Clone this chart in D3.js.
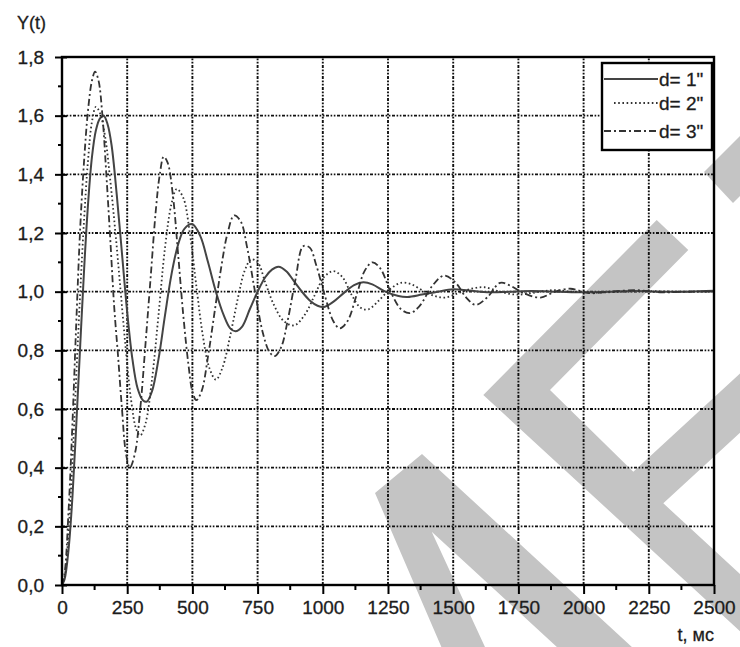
<!DOCTYPE html>
<html>
<head>
<meta charset="utf-8">
<script src="https://cdn.jsdelivr.net/npm/d3@7/dist/d3.min.js"></script>
<style>
  body { margin: 0; background: #fff; }
  svg { display: block; }
  text { font-family: "Liberation Sans", Arial, sans-serif; fill: #1c1c1c; }
</style>
</head>
<body>
<svg id="chart" width="740" height="647"></svg>
<script>
// Step response Y(t) for three diameters, t in ms
const seriesNames = ['d= 1"', 'd= 2"', 'd= 3"'];

const responseD1 = [
  [0,0],[10,0.02],[25,0.12],[40,0.3],[55,0.55],[70,0.82],[85,1.08],[100,1.3],[115,1.46],
  [130,1.55],[145,1.59],[160,1.6],[175,1.57],[190,1.5],[210,1.33],[230,1.13],[250,0.93],
  [270,0.77],[290,0.67],[310,0.63],[325,0.625],[345,0.66],[370,0.77],[395,0.92],[420,1.06],
  [445,1.16],[470,1.215],[500,1.23],[530,1.19],[560,1.1],[590,1.0],[620,0.92],[645,0.875],
  [665,0.865],[690,0.88],[720,0.94],[750,1.0],[780,1.05],[805,1.075],[830,1.085],[860,1.07],
  [890,1.035],[920,1.0],[950,0.97],[980,0.952],[1005,0.948],[1040,0.965],[1080,0.995],
  [1120,1.022],[1155,1.032],[1190,1.025],[1240,1.0],[1290,0.985],[1325,0.982],[1380,0.99],
  [1440,1.0],[1500,1.008],[1560,1.004],[1640,0.998],[1720,1.0],[1800,1.002],[1900,1.0],
  [2000,0.998],[2100,1.0],[2200,1.002],[2300,1.0],[2400,1.0],[2500,1.003]
];

const responseD2 = [
  [0,0],[10,0.03],[25,0.18],[40,0.42],[55,0.72],[70,1.0],[85,1.25],[100,1.45],[115,1.58],
  [130,1.63],[145,1.61],[165,1.53],[185,1.38],[205,1.2],[225,1.0],[245,0.8],[265,0.63],
  [285,0.53],[300,0.51],[320,0.55],[345,0.7],[370,0.92],[395,1.15],[420,1.3],[440,1.35],
  [465,1.32],[490,1.2],[515,1.02],[540,0.85],[565,0.74],[590,0.7],[615,0.74],[645,0.85],
  [675,0.98],[700,1.07],[725,1.11],[750,1.1],[780,1.03],[810,0.96],[850,0.9],[890,0.885],
  [930,0.92],[970,0.99],[1005,1.05],[1040,1.07],[1075,1.05],[1110,0.99],[1145,0.945],
  [1175,0.94],[1215,0.97],[1260,1.01],[1300,1.03],[1340,1.025],[1390,1.0],[1430,0.985],
  [1470,0.98],[1520,0.995],[1570,1.01],[1620,1.015],[1680,1.0],[1740,0.99],[1800,0.995],
  [1880,1.005],[1960,1.0],[2050,0.997],[2150,1.0],[2250,1.002],[2350,1.0],[2500,1.0]
];

const responseD3 = [
  [0,0],[10,0.04],[25,0.25],[40,0.55],[55,0.9],[70,1.22],[85,1.45],[100,1.62],[115,1.72],
  [127,1.75],[140,1.72],[155,1.6],[170,1.4],[185,1.18],[200,0.95],[215,0.78],[230,0.6],
  [245,0.45],[260,0.4],[280,0.45],[300,0.6],[320,0.82],[340,1.05],[360,1.28],[375,1.4],
  [390,1.46],[405,1.44],[425,1.33],[445,1.13],[465,0.92],[485,0.75],[500,0.66],[515,0.63],
  [535,0.66],[560,0.78],[585,0.93],[610,1.08],[635,1.2],[660,1.26],[685,1.24],[710,1.15],
  [740,1.0],[770,0.86],[795,0.795],[815,0.78],[840,0.81],[865,0.9],[895,1.04],[925,1.155],
  [950,1.15],[975,1.09],[1010,0.98],[1040,0.9],[1065,0.875],[1095,0.9],[1130,0.99],
  [1160,1.07],[1190,1.1],[1220,1.08],[1260,1.0],[1300,0.94],[1335,0.927],[1370,0.95],
  [1420,1.02],[1465,1.055],[1510,1.03],[1550,0.98],[1585,0.955],[1630,0.98],[1680,1.03],
  [1720,1.02],[1770,0.995],[1835,0.98],[1890,1.0],[1950,1.01],[2020,0.995],[2100,1.0],
  [2200,1.005],[2300,0.998],[2400,1.0],[2500,1.0]
];

const xTickValues = [0, 250, 500, 750, 1000, 1250, 1500, 1750, 2000, 2250, 2500];
const yTickValues = [0, 0.2, 0.4, 0.6, 0.8, 1.0, 1.2, 1.4, 1.6, 1.8];
const xAxisTitle = "t, мс";
const yAxisTitle = "Y(t)";

const svg = d3.select("#chart");
const W = 740, H = 647;
svg.append("rect").attr("width", W).attr("height", H).attr("fill", "#fff");

// Background stamp: large grey diagonal strokes
const stamp = [
  [[375,493],[422,454],[646,660],[571,660],[431.7,531.7],[491,660],[447,660]],
  [[656.7,220],[688.3,250],[550,390],[633.3,471.7],[760,355.1],[760,414.3],[663.3,503.3],
   [760,592.3],[760,649.6],[483.3,395]],
  [[704,172],[750,126],[750,186],[733,203]]
];
svg.append("g").selectAll("polygon").data(stamp).join("polygon")
  .attr("points", d => d.map(p => p.join(",")).join(" "))
  .attr("fill", "#c4c4c4");

const x = d3.scaleLinear().domain([0, 2500]).range([62, 714]);
const y = d3.scaleLinear().domain([0, 1.8]).range([585, 57]);

const commaFmt = d3.formatLocale({decimal: ",", thousands: "", grouping: [3], currency: ["", ""]}).format(".1f");

// grid: dash-dot-dot lines at every major tick
const gridDash = "3,1.6,1.6,1.6,1.6,1.6";
const grid = svg.append("g").attr("stroke", "#111").attr("stroke-width", 1.9).attr("stroke-dasharray", gridDash);
grid.selectAll("line.v").data(xTickValues.slice(1, -1)).join("line")
  .attr("x1", d => x(d)).attr("x2", d => x(d)).attr("y1", y(0)).attr("y2", y(1.8));
grid.selectAll("line.h").data(yTickValues.slice(1, -1)).join("line")
  .attr("x1", x(0)).attr("x2", x(2500)).attr("y1", d => y(d)).attr("y2", d => y(d));

// curves
const line = d3.line().x(d => x(d[0])).y(d => y(d[1])).curve(d3.curveCatmullRom.alpha(0.5));
const styles = [
  {data: responseD1, dash: null, width: 2, color: "#444"},
  {data: responseD2, dash: "1.6,2.6", width: 1.8, color: "#333"},
  {data: responseD3, dash: "7,3,2,3", width: 1.8, color: "#333"}
];
svg.append("g").attr("fill", "none").selectAll("path").data(styles).join("path")
  .attr("d", d => line(d.data))
  .attr("stroke", d => d.color)
  .attr("stroke-width", d => d.width)
  .attr("stroke-dasharray", d => d.dash);

// axes
const fontSize = 19;
const xAxis = svg.append("g").attr("transform", `translate(0,${y(0)})`)
  .call(d3.axisBottom(x).tickValues(xTickValues).tickSize(9).tickPadding(7).tickFormat(d3.format("d")));
const yAxis = svg.append("g").attr("transform", `translate(${x(0)},0)`)
  .call(d3.axisLeft(y).tickValues(yTickValues).tickSize(7).tickPadding(11).tickFormat(commaFmt));
[xAxis, yAxis].forEach(g => {
  g.select(".domain").remove();
  g.selectAll(".tick line").attr("stroke", "#000").attr("stroke-width", 2);
  g.selectAll(".tick text").attr("font-size", fontSize).attr("fill", "#1c1c1c")
    .attr("stroke", "#1c1c1c").attr("stroke-width", 0.3)
    .attr("font-family", '"Liberation Sans", Arial, sans-serif');
});
// major y ticks cross the axis
yAxis.selectAll(".tick line").attr("x2", 5).attr("x1", -7);

// minor ticks
const minorX = d3.range(125, 2500, 250);
const minorY = d3.range(0.1, 1.8, 0.2);
svg.append("g").selectAll("line").data(minorX).join("line")
  .attr("x1", d => x(d)).attr("x2", d => x(d)).attr("y1", y(0)).attr("y2", y(0) + 5)
  .attr("stroke", "#000").attr("stroke-width", 2);
svg.append("g").selectAll("line").data(minorY).join("line")
  .attr("x1", x(0) - 4).attr("x2", x(0)).attr("y1", d => y(d)).attr("y2", d => y(d))
  .attr("stroke", "#000").attr("stroke-width", 2);

// frame
svg.append("rect")
  .attr("x", x(0)).attr("y", y(1.8)).attr("width", x(2500) - x(0)).attr("height", y(0) - y(1.8))
  .attr("fill", "none").attr("stroke", "#000").attr("stroke-width", 2.4);

// axis titles
svg.append("text").attr("x", 17).attr("y", 29).attr("font-size", 18)
  .attr("stroke", "#1c1c1c").attr("stroke-width", 0.3).text(yAxisTitle);
svg.append("text").attr("x", x(2500)).attr("y", 641).attr("text-anchor", "end")
  .attr("font-size", 18).attr("stroke", "#1c1c1c").attr("stroke-width", 0.3).text(xAxisTitle);

// legend
const lg = svg.append("g");
lg.append("rect").attr("x", 602).attr("y", 63).attr("width", 110).attr("height", 87)
  .attr("fill", "#fff").attr("stroke", "#000").attr("stroke-width", 2.4);
const rowY = [79, 103, 131];
const sampleStart = [604, 614, 604];
styles.forEach((s, i) => {
  lg.append("line").attr("x1", sampleStart[i]).attr("x2", 658).attr("y1", rowY[i]).attr("y2", rowY[i])
    .attr("stroke", s.color).attr("stroke-width", s.width).attr("stroke-dasharray", s.dash);
  lg.append("text").attr("x", 659).attr("y", rowY[i] + 7).attr("font-size", 19)
    .attr("stroke", "#1c1c1c").attr("stroke-width", 0.3).text(seriesNames[i]);
});
</script>
</body>
</html>
